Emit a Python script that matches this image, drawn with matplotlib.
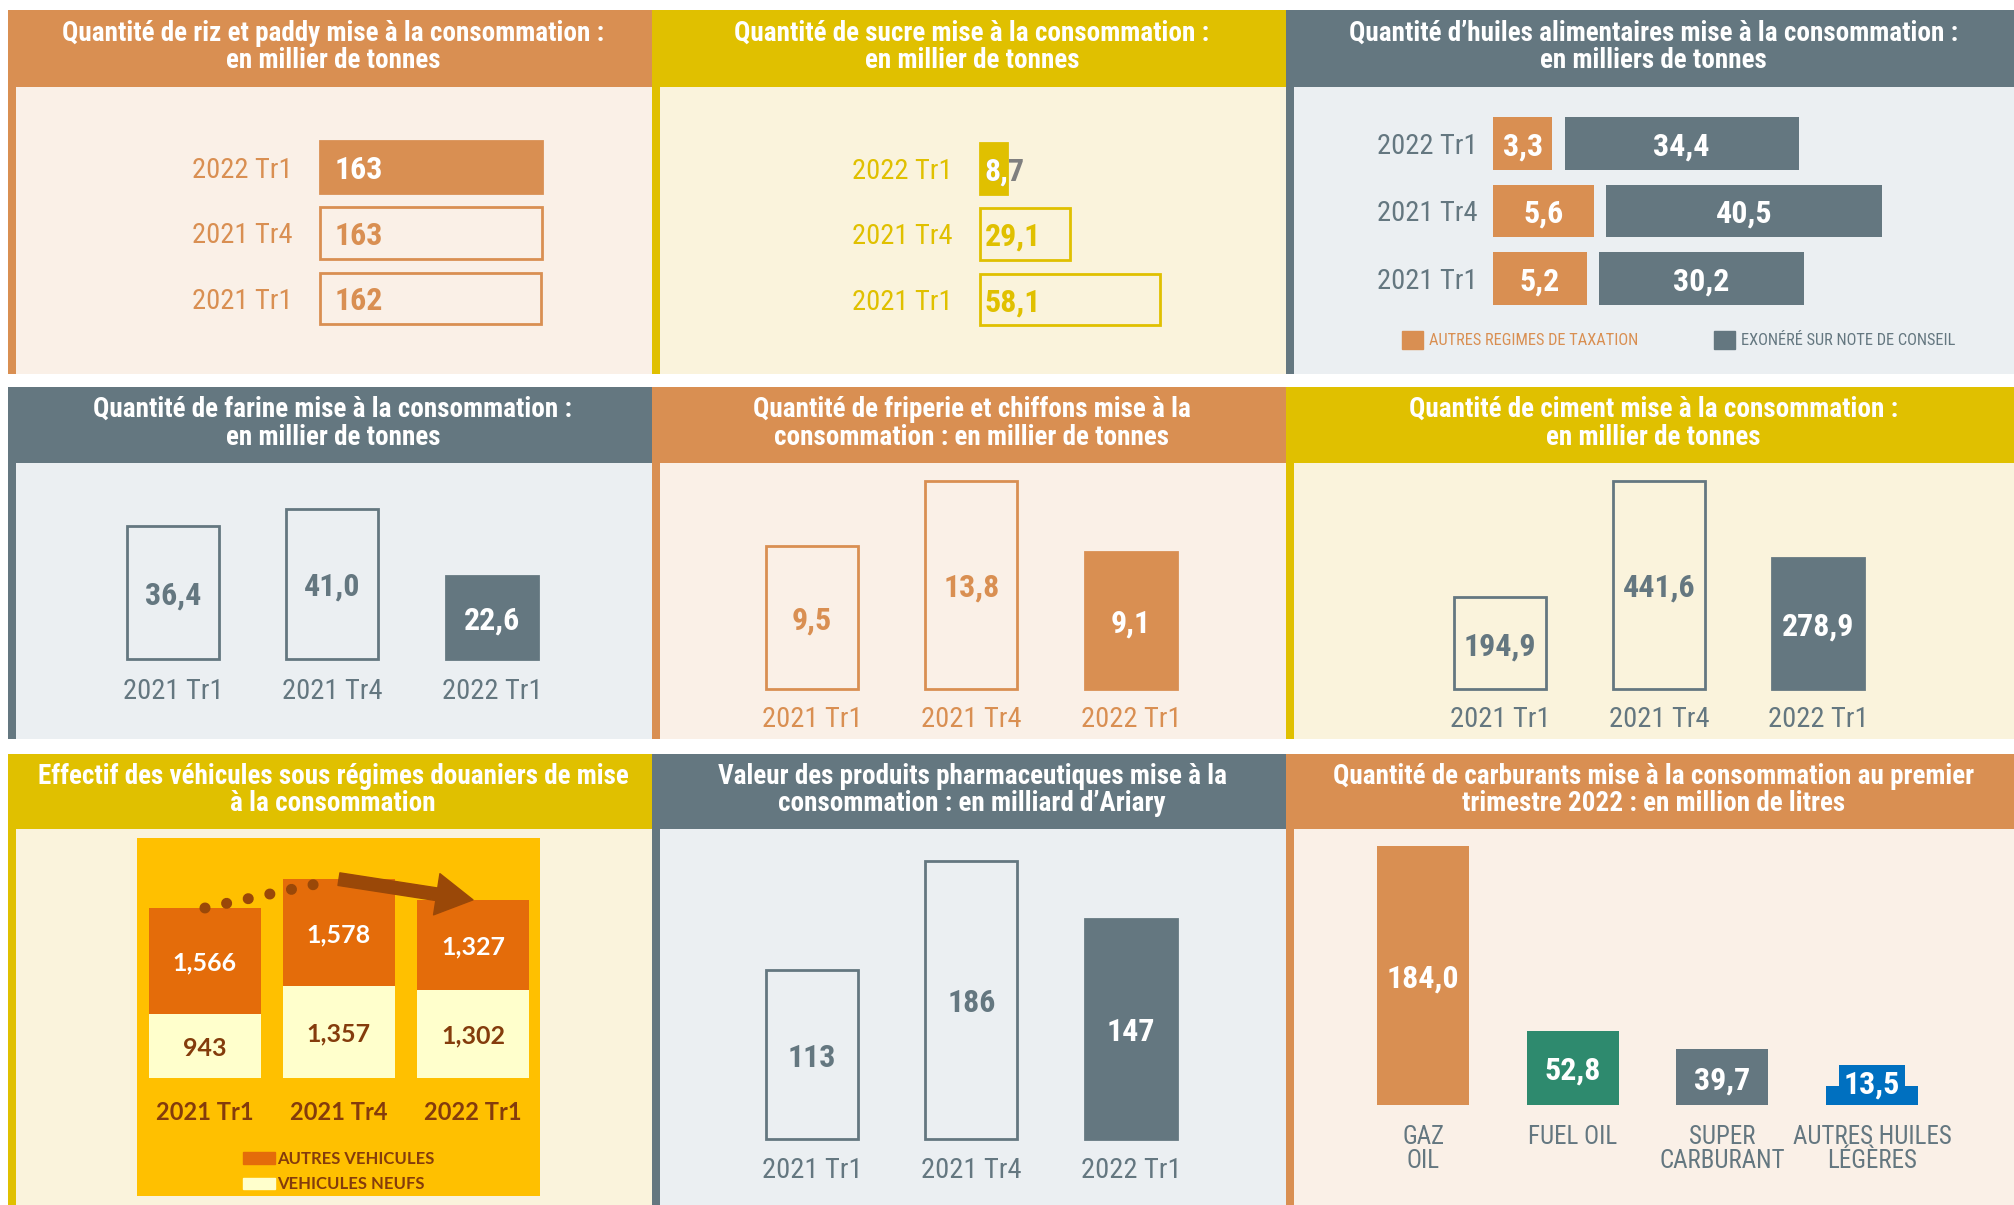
import matplotlib
matplotlib.use('Agg')
import matplotlib.pyplot as plt
from matplotlib.patches import Rectangle, Patch, FancyArrowPatch
from matplotlib.transforms import Affine2D, offset_copy, TransformedBbox
from matplotlib import font_manager
import numpy as np

# ---------------- data ----------------
riz_cats = ['2022 Tr1', '2021 Tr4', '2021 Tr1']
riz_vals = [163, 163, 162]

sucre_cats = ['2022 Tr1', '2021 Tr4', '2021 Tr1']
sucre_vals = [8.7, 29.1, 58.1]

huile_cats = ['2022 Tr1', '2021 Tr4', '2021 Tr1']
huile_autres = [3.3, 5.6, 5.2]
huile_exonere = [34.4, 40.5, 30.2]
huile_series = ['AUTRES REGIMES DE TAXATION', 'EXONÉRÉ SUR NOTE DE CONSEIL']

trim_cats = ['2021 Tr1', '2021 Tr4', '2022 Tr1']
farine_vals = [36.4, 41.0, 22.6]
friperie_vals = [9.5, 13.8, 9.1]
ciment_vals = [194.9, 441.6, 278.9]
pharma_vals = [113, 186, 147]

veh_cats = ['2021 Tr1', '2021 Tr4', '2022 Tr1']
veh_neufs = [943, 1357, 1302]
veh_autres = [1566, 1578, 1327]
veh_series = ['AUTRES VEHICULES', 'VEHICULES NEUFS']

carb_cats = ['GAZ\nOIL', 'FUEL OIL', 'SUPER\nCARBURANT', 'AUTRES HUILES\nLÉGÈRES']
carb_vals = [184.0, 52.8, 39.7, 13.5]

titles = [
    ['Quantité de riz et paddy mise à la consommation :\nen millier de tonnes',
     'Quantité de sucre mise à la consommation :\nen millier de tonnes',
     'Quantité d’huiles alimentaires mise à la consommation :\nen milliers de tonnes'],
    ['Quantité de farine mise à la consommation :\nen millier de tonnes',
     'Quantité de friperie et chiffons mise à la\nconsommation : en millier de tonnes',
     'Quantité de ciment mise à la consommation :\nen millier de tonnes'],
    ['Effectif des véhicules sous régimes douaniers de mise\nà la consommation',
     'Valeur des produits pharmaceutiques mise à la\nconsommation : en milliard d’Ariary',
     'Quantité de carburants mise à la consommation au premier\ntrimestre 2022 : en million de litres'],
]

# ---------------- style ----------------
names = {f.name for f in font_manager.fontManager.ttflist}
NARROW = next((n for n in ['Liberation Sans Narrow', 'Roboto Condensed', 'DejaVu Sans Condensed', 'Liberation Sans'] if n in names), 'DejaVu Sans')
ROUND = next((n for n in ['Lato', 'Open Sans', 'Noto Sans'] if n in names), 'DejaVu Sans')
plt.rcParams['font.family'] = [NARROW, 'DejaVu Sans']

ORANGE = '#D98F52'
YELLOW = '#E0C000'
GREY = '#647780'
BODY = {'orange': '#FAF0E7', 'yellow': '#FAF3DC', 'grey': '#EBEFF2'}
HEAD = {'orange': ORANGE, 'yellow': YELLOW, 'grey': GREY}
GOLD = '#FFC000'
VORANGE = '#E46C0A'
VLIGHT = '#FFFFCC'
BROWN = '#843C0C'
ARROWC = '#9A4808'
GREEN = '#2E8A6E'
BLUE = '#0070C0'
TXTGREY = '#7F7F7F'
VA = 'center_baseline'

W, H = 2015, 1205
fig = plt.figure(figsize=(W / 100, H / 100), dpi=100)
fig.patch.set_facecolor('white')
PXT = Affine2D().scale(1 / W, -1 / H).translate(0, 1) + fig.transFigure


def PT(px):
    return px * 72 / 100


def add_px_axes(x0, y0, x1, y1):
    ax = fig.add_axes([x0 / W, 1 - y1 / H, (x1 - x0) / W, (y1 - y0) / H])
    ax.patch.set_visible(False)
    for s in ax.spines.values():
        s.set_visible(False)
    return ax


def fr(v, d=1):
    return f"{v:.{d}f}".replace('.', ',')


# ---------------- panels ----------------
COLS = [(8, 652), (652, 1286), (1286, 2015)]
ROWS = [(10, 87, 374), (387, 463, 739), (754, 829, 1205)]
LAYOUT = [['orange', 'yellow', 'grey'], ['grey', 'orange', 'yellow'], ['yellow', 'grey', 'orange']]
STRIP = 8
for r, (top, hb, bot) in enumerate(ROWS):
    for c, (x0, x1) in enumerate(COLS):
        k = LAYOUT[r][c]
        fig.add_artist(Rectangle((x0, hb), x1 - x0, bot - hb, transform=PXT,
                                 facecolor=BODY[k], edgecolor='none', zorder=-3))
        fig.add_artist(Rectangle((x0, top), x1 - x0, hb - top, transform=PXT,
                                 facecolor=HEAD[k], edgecolor='none', zorder=-2))
        fig.add_artist(Rectangle((x0, hb), STRIP, bot - hb, transform=PXT,
                                 facecolor=HEAD[k], edgecolor='none', zorder=-2))
        fig.text((x0 + x1) / 2 / W + 3 / W, 1 - ((top + hb) / 2 - 1.5) / H, titles[r][c],
                 ha='center', va='center', color='white', fontsize=19.5,
                 fontweight='bold', linespacing=1.03)


# ---------------- horizontal bar helper ----------------
def hbar(cats, vals, x_zero, y_first, y_step, ppu, hfrac, filled, color, label_color,
         label_gap, width_px=420):
    n = len(vals)
    y0 = y_first - y_step / 2
    y1 = y_first + (n - 0.5) * y_step
    ax = add_px_axes(x_zero, y0, x_zero + width_px, y1)
    ax.set_xlim(0, width_px / ppu)
    ax.set_ylim(n - 0.5, -0.5)
    fcs = [color if f else 'none' for f in filled]
    bars = ax.barh(range(n), vals, height=hfrac, color=fcs, edgecolor=color, linewidth=2)
    for b in bars:
        b.set_clip_on(False)
    ax.set_yticks(range(n), cats)
    ax.set_xticks([])
    ax.tick_params(axis='y', length=0, pad=PT(label_gap), labelsize=20.5, labelcolor=label_color)
    return ax, bars


# Riz
ax, bars = hbar(riz_cats, riz_vals, 320, 167, 65.75, 222 / 163, 0.79, [True, False, False],
                ORANGE, ORANGE, 27)
tr = offset_copy(ax.transData, fig=fig, x=PT(15), y=0, units='points')
for i, v in enumerate(riz_vals):
    ax.text(0, i, str(v), transform=tr, ha='left', va=VA, fontsize=23,
            fontweight='bold', color='white' if i == 0 else ORANGE)

# Sucre
ax, bars = hbar(sucre_cats, sucre_vals, 980, 168.5, 65.5, 180 / 58.1, 0.78, [True, False, False],
                YELLOW, YELLOW, 27)
tr = offset_copy(ax.transData, fig=fig, x=PT(5), y=0, units='points')
for i, v in enumerate(sucre_vals):
    if i == 0:
        ax.text(0, i, fr(v), transform=tr, ha='left', va=VA, fontsize=23,
                fontweight='bold', color=TXTGREY)
        t = ax.text(0, i, fr(v), transform=tr, ha='left', va=VA, fontsize=23,
                    fontweight='bold', color='white')
        t.set_clip_on(True)
        t.set_clip_box(TransformedBbox(bars[i].get_bbox(), ax.transData))
    else:
        ax.text(0, i, fr(v), transform=tr, ha='left', va=VA, fontsize=23,
                fontweight='bold', color=YELLOW)

# Huiles
OK = 2.65          # display stretch of the small series
GAP = 1.8
n = len(huile_cats)
ax = add_px_axes(1493, 143.5 - 33.75, 1993, 278.5 + 33.75)
ppu = 6.8
ax.set_xlim(0, 500 / ppu)
ax.set_ylim(n - 0.5, -0.5)
oa = np.array(huile_autres) * OK
ax.barh(range(n), oa, height=0.785, color=ORANGE)
ax.barh(range(n), huile_exonere, left=oa + GAP, height=0.785, color=GREY)
ax.set_yticks(range(n), huile_cats)
ax.set_xticks([])
ax.tick_params(axis='y', length=0, pad=PT(15), labelsize=20.5, labelcolor=GREY)
for i in range(n):
    ax.text(oa[i] / 2, i, fr(huile_autres[i]), ha='center', va=VA, fontsize=23,
            fontweight='bold', color='white')
    ax.text(oa[i] + GAP + huile_exonere[i] / 2, i, fr(huile_exonere[i]), ha='center',
            va=VA, fontsize=23, fontweight='bold', color='white')
fig.legend(handles=[Patch(color=ORANGE), Patch(color=GREY)], labels=huile_series, ncol=2,
           loc='center left', bbox_to_anchor=(1402 / W, 1 - 340 / H), frameon=False,
           fontsize=11.8, handlelength=1.3, handleheight=1.3, handletextpad=0.35,
           columnspacing=4.6, labelcolor=[ORANGE, GREY], borderpad=0, borderaxespad=0)


# ---------------- vertical bar helper ----------------
def vbar(cats, vals, x_first, x_step, bottom, ppu, width_px, facecolors, edgecolors, txtcolors,
         txts, label_color, label_pad, label_size=20.5, lw=2, value_size=23):
    n = len(vals)
    x0 = x_first - x_step / 2
    x1 = x_first + (n - 0.5) * x_step
    hpx = max(vals) * ppu + 30
    ax = add_px_axes(x0, bottom - hpx, x1, bottom)
    ax.set_xlim(-0.5, n - 0.5)
    ax.set_ylim(0, hpx / ppu)
    bars = ax.bar(range(n), vals, width=width_px / x_step, color=facecolors,
                  edgecolor=edgecolors, linewidth=lw)
    for b in bars:
        b.set_clip_on(False)
    ax.set_xticks(range(n), cats)
    ax.set_yticks([])
    ax.tick_params(axis='x', length=0, pad=PT(label_pad), labelsize=label_size,
                   labelcolor=label_color)
    up = offset_copy(ax.transData, fig=fig, x=0, y=PT(5), units='points')
    for i, v in enumerate(vals):
        if v * ppu < 30:   # label taller than its bar: sits on the baseline with a bar-coloured box
            ax.text(i, 0, txts[i], transform=up, ha='center', va='bottom', fontsize=value_size,
                    fontweight='bold', color=txtcolors[i],
                    bbox=dict(boxstyle='square,pad=0.15', facecolor=facecolors[i],
                              edgecolor='none'))
        else:
            ax.text(i, v / 2, txts[i], ha='center', va=VA, fontsize=value_size,
                    fontweight='bold', color=txtcolors[i])
    return ax


vbar(trim_cats, farine_vals, 173, 159.5, 659, 150 / 41.0, 92, ['none', 'none', GREY], GREY,
     [GREY, GREY, 'white'], [fr(v) for v in farine_vals], GREY, 19)
vbar(trim_cats, friperie_vals, 812, 159.5, 689, 208 / 13.8, 92, ['none', 'none', ORANGE], ORANGE,
     [ORANGE, ORANGE, 'white'], [fr(v) for v in friperie_vals], ORANGE, 17)
vbar(trim_cats, ciment_vals, 1500, 159, 689, 208 / 441.6, 92, ['none', 'none', GREY], GREY,
     [GREY, GREY, 'white'], [fr(v) for v in ciment_vals], GREY, 17)
vbar(trim_cats, pharma_vals, 812, 159.5, 1139, 278 / 186, 92, ['none', 'none', GREY], GREY,
     [GREY, GREY, 'white'], [str(v) for v in pharma_vals], GREY, 18)
axc = vbar(carb_cats, carb_vals, 1423, 149.7, 1105, 259 / 184.0, 92,
           [ORANGE, GREEN, GREY, BLUE], 'none', ['white'] * 4, [fr(v) for v in carb_vals],
           GREY, 20, label_size=18, lw=0)
for t in axc.get_xticklabels():
    t.set_linespacing(1.0)

# ---------------- vehicles ----------------
fig.add_artist(Rectangle((137, 838), 540 - 137, 1196 - 838, transform=PXT,
                         facecolor=GOLD, edgecolor='none', zorder=-1))
vppu = 170 / 2509
axv = add_px_axes(137, 838, 540, 1078)
axv.set_xlim(-0.507, 2.5)
axv.set_ylim(0, 240 / vppu)
xs = np.arange(len(veh_cats))
axv.bar(xs, veh_neufs, width=0.83, color=VLIGHT)
axv.bar(xs, veh_autres, bottom=veh_neufs, width=0.83, color=VORANGE)
axv.set_xticks(xs, veh_cats)
axv.set_yticks([])
axv.tick_params(axis='x', length=0, pad=PT(23), labelcolor=BROWN)
for t in axv.get_xticklabels():
    t.set_fontfamily(ROUND)
    t.set_fontweight('bold')
    t.set_fontsize(17)
tot = np.array(veh_neufs) + np.array(veh_autres)
for i in xs:
    axv.text(i, veh_neufs[i] / 2, f"{veh_neufs[i]:,}", ha='center', va=VA,
             fontsize=18, fontweight='bold', color=BROWN, family=ROUND)
    axv.text(i, veh_neufs[i] + veh_autres[i] / 2, f"{veh_autres[i]:,}", ha='center',
             va=VA, fontsize=18, fontweight='bold', color='white', family=ROUND)
f = 0.84
axv.plot([0, f], [tot[0], tot[0] + f * (tot[1] - tot[0])], color=ARROWC, lw=PT(11),
         ls=(0, (0.01, 2.0)), dash_capstyle='round', clip_on=False)
arr = FancyArrowPatch((1, tot[1]), (2, tot[2]),
                      arrowstyle='simple,head_length=1.1,head_width=1.25,tail_width=0.38',
                      mutation_scale=24, color=ARROWC, shrinkA=0, shrinkB=0,
                      clip_on=False, capstyle='round', joinstyle='round')
axv.add_patch(arr)
fig.legend(handles=[Patch(color=VORANGE), Patch(color=VLIGHT)], labels=veh_series,
           loc='upper left', bbox_to_anchor=(243 / W, 1 - 1151 / H), frameon=False,
           prop={'family': ROUND, 'weight': 'bold', 'size': 12}, handlelength=1.9,
           handleheight=0.7, handletextpad=0.15, labelspacing=0.55, labelcolor=BROWN,
           borderpad=0, borderaxespad=0)

fig.savefig('out.png', dpi=100, facecolor='white')
